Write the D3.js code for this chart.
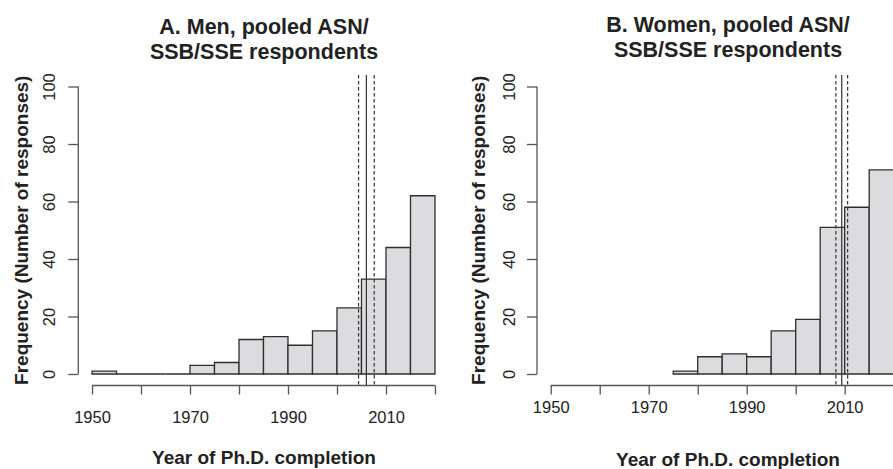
<!DOCTYPE html>
<html>
<head>
<meta charset="utf-8">
<script src="https://cdn.jsdelivr.net/npm/d3@7"></script>
<style>
  body { margin: 0; background: #fff; }
  svg { display: block; font-family: "Liberation Sans", Arial, Helvetica, sans-serif; }
</style>
</head>
<body>
<div id="app"></div>
<script>
const WIDTH = 893;
const HEIGHT = 469;

// histogram counts, 5-year bins
const BIN_WIDTH = 5;
const menStart = 1950;
const menCounts = [1, 0, 0, 0, 3, 4, 12, 13, 10, 15, 23, 33, 44, 62];
const womenStart = 1975;
const womenCounts = [1, 6, 7, 6, 15, 19, 51, 58, 71];

// vertical reference lines: lower CI, mean, upper CI
const menLines = [2004.4, 2006.0, 2007.6];
const womenLines = [2008.2, 2009.4, 2010.6];

const xTicks = [1950, 1960, 1970, 1980, 1990, 2000, 2010, 2020];
const xLabels = [1950, 1970, 1990, 2010];
const yTicks = [0, 20, 40, 60, 80, 100];

const titlesA = ['A. Men, pooled ASN/', 'SSB/SSE respondents'];
const titlesB = ['B. Women, pooled ASN/', 'SSB/SSE respondents'];
const xTitle = 'Year of Ph.D. completion';
const yTitle = 'Frequency (Number of responses)';

const svg = d3.select('#app')
  .append('svg')
  .attr('width', WIDTH)
  .attr('height', HEIGHT);

svg.append('rect').attr('width', WIDTH).attr('height', HEIGHT).attr('fill', '#fff');

function drawPanel(opts) {
  const x = d3.scaleLinear().domain([1947.2, 2022.8]).range([opts.left, opts.right]);
  const y = d3.scaleLinear().domain([-4, 104]).range([385.5, 75]);

  const g = svg.append('g');

  const bins = opts.counts.map((c, i) => ({ x0: opts.start + i * BIN_WIDTH, x1: opts.start + (i + 1) * BIN_WIDTH, n: c }));

  // paths instead of rects so empty bins still show as a flat line
  g.selectAll('path.bar')
    .data(bins)
    .enter()
    .append('path')
    .attr('class', 'bar')
    .attr('d', d => `M${x(d.x0)},${y(0)}V${y(d.n)}H${x(d.x1)}V${y(0)}Z`)
    .attr('fill', '#dcdcde')
    .attr('stroke', '#2e2e2e')
    .attr('stroke-width', 1.3);

  // mean and CI lines
  g.selectAll('line.ref')
    .data(opts.lines)
    .enter()
    .append('line')
    .attr('x1', d => x(d)).attr('x2', d => x(d))
    .attr('y1', y(104)).attr('y2', y(-4))
    .attr('stroke', '#333')
    .attr('stroke-width', 1.2)
    .attr('stroke-dasharray', (d, i) => i === 1 ? null : '3.5,2.5');

  // x axis
  const xAxis = g.append('g')
    .attr('transform', `translate(0,${y(-4)})`)
    .call(d3.axisBottom(x).tickValues(xTicks).tickSize(9).tickSizeOuter(0)
      .tickFormat(d => xLabels.includes(d) ? d : ''));
  xAxis.select('.domain').remove();
  xAxis.append('line')
    .attr('x1', x(xTicks[0])).attr('x2', x(xTicks[xTicks.length - 1]))
    .attr('stroke', '#555').attr('stroke-width', 1.3);
  xAxis.selectAll('.tick line').attr('stroke', '#555').attr('stroke-width', 1.3);
  xAxis.selectAll('.tick text')
    .attr('y', opts.tickLabelDy)
    .attr('dy', null)
    .attr('fill', '#222')
    .attr('font-size', 16.5);

  // y axis
  const yAxis = g.append('g')
    .attr('transform', `translate(${opts.left},0)`)
    .call(d3.axisLeft(y).tickValues(yTicks).tickSize(10).tickSizeOuter(0));
  yAxis.select('.domain').remove();
  yAxis.append('line')
    .attr('y1', y(0)).attr('y2', y(100))
    .attr('stroke', '#555').attr('stroke-width', 1.3);
  yAxis.selectAll('.tick line').attr('stroke', '#555').attr('stroke-width', 1.3);
  yAxis.selectAll('.tick text')
    .attr('x', null).attr('dy', null)
    .attr('transform', `translate(${opts.yTickBase - opts.left},0) rotate(-90)`)
    .attr('text-anchor', 'middle')
    .attr('fill', '#222')
    .attr('font-size', 16.5);

  // titles
  g.selectAll('text.title')
    .data(opts.titles)
    .enter()
    .append('text')
    .attr('x', opts.titleX)
    .attr('y', (d, i) => opts.titleY + i * 25)
    .attr('text-anchor', 'middle')
    .attr('font-weight', 'bold')
    .attr('font-size', 21.5)
    .attr('fill', '#222')
    .text(d => d);

  g.append('text')
    .attr('x', opts.titleX)
    .attr('y', opts.xTitleY)
    .attr('text-anchor', 'middle')
    .attr('font-weight', 'bold')
    .attr('font-size', 19)
    .attr('fill', '#222')
    .text(xTitle);

  g.append('text')
    .attr('transform', `translate(${opts.yTitleX},${(y(104) + y(-4)) / 2}) rotate(-90)`)
    .attr('text-anchor', 'middle')
    .attr('font-weight', 'bold')
    .attr('font-size', 19)
    .attr('fill', '#222')
    .text(yTitle);
}

drawPanel({
  left: 78.3, right: 448.7,
  start: menStart, counts: menCounts, lines: menLines,
  titles: titlesA, titleX: 264, titleY: 33.5,
  tickLabelDy: 37.5, xTitleY: 464, yTickBase: 55, yTitleX: 28
});

drawPanel({
  left: 537, right: 907.4,
  start: womenStart, counts: womenCounts, lines: womenLines,
  titles: titlesB, titleX: 728, titleY: 32,
  tickLabelDy: 27.5, xTitleY: 465.5, yTickBase: 515, yTitleX: 485
});
</script>
</body>
</html>
